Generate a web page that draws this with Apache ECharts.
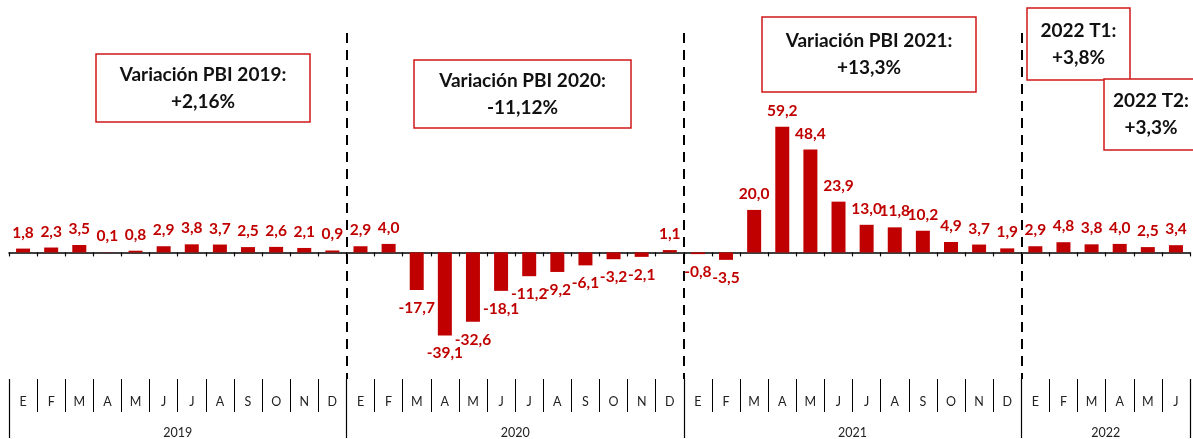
<!DOCTYPE html>
<html lang="es">
  <head>
    <meta charset="UTF-8" />
    <title>Variación mensual PBI</title>
    <script src="https://cdn.jsdelivr.net/npm/echarts@6.0.0/dist/echarts.min.js"></script>
    <style>
      html, body { margin: 0; padding: 0; background: #fff; }
      #main { width: 1193px; height: 439px; }
    </style>
  </head>
  <body>
    <div id="main"></div>

    <script>
      const months = ['E', 'F', 'M', 'A', 'M', 'J', 'J', 'A', 'S', 'O', 'N', 'D'];
      const years = ['2019', '2020', '2021', '2022'];
      const monthsPerYear = [12, 12, 12, 6];

      const values2019 = [1.8, 2.3, 3.5, 0.1, 0.8, 2.9, 3.8, 3.7, 2.5, 2.6, 2.1, 0.9];
      const values2020 = [2.9, 4.0, -17.7, -39.1, -32.6, -18.1, -11.2, -9.2, -6.1, -3.2, -2.1, 1.1];
      const values2021 = [-0.8, -3.5, 20.0, 59.2, 48.4, 23.9, 13.0, 11.8, 10.2, 4.9, 3.7, 1.9];
      const values2022 = [2.9, 4.8, 3.8, 4.0, 2.5, 3.4];

      const boxTitles = ['Variación PBI 2019:', 'Variación PBI 2020:', 'Variación PBI 2021:', '2022 T1:', '2022 T2:'];
      const boxValues = ['+2,16%', '-11,12%', '+13,3%', '+3,8%', '+3,3%'];

      const RED = '#C00000';
      const FONT = 'Lato';

      const values = [].concat(values2019, values2020, values2021, values2022);
      const monthCats = [];
      monthsPerYear.forEach((n) => {
        for (let i = 0; i < n; i++) monthCats.push(months[i]);
      });

      // half-month slots so the year names sit between months
      const halfCount = values.length * 2 + 1;
      const yearCats = new Array(halfCount).fill('');
      const yearEdges = [0];
      let start = 0;
      monthsPerYear.forEach((n, i) => {
        yearCats[start * 2 + n] = years[i];
        start += n;
        yearEdges.push(start * 2);
      });

      const fmt = (v) => v.toFixed(1).replace('.', ',');

      // annotation boxes [x, y, w, h]
      const boxPos = [
        [96, 54, 214, 68],
        [414, 60, 217, 68],
        [762, 17, 214, 75],
        [1027, 8, 103, 72],
        [1104, 79, 94, 71],
      ];
      const graphics = [];
      boxPos.forEach((b, i) => {
        graphics.push({
          type: 'rect',
          shape: { x: b[0], y: b[1], width: b[2], height: b[3] },
          style: { fill: '#fff', stroke: '#D01818', lineWidth: 1.5 },
          z: 10,
        });
        graphics.push({
          type: 'text',
          x: b[0] + b[2] / 2,
          y: b[1] + b[3] / 2,
          style: {
            text: boxTitles[i] + '\n' + boxValues[i],
            fill: '#111',
            font: 'bold 19px ' + FONT,
            align: 'center',
            verticalAlign: 'middle',
            lineHeight: 27,
          },
          z: 11,
        });
      });

      const options = {
        animation: false,
        grid: { left: 9, right: 0, top: 33, bottom: 59 },
        xAxis: [
          {
            type: 'category',
            data: monthCats,
            position: 'bottom',
            axisLine: { onZero: true, lineStyle: { color: '#000', width: 1.5 } },
            axisTick: { show: true, length: 4, lineStyle: { color: '#000', width: 1.2 } },
            axisLabel: { show: false },
          },
          {
            type: 'category',
            data: monthCats,
            position: 'bottom',
            axisLine: { show: true, onZero: false, lineStyle: { color: 'rgba(0,0,0,0)' } },
            axisTick: { show: true, interval: 0, length: 33, lineStyle: { color: '#000', width: 1 } },
            axisLabel: { interval: 0, margin: 16, fontSize: 12.5, fontFamily: FONT, color: '#222' },
          },
          {
            type: 'category',
            data: yearCats,
            boundaryGap: false,
            position: 'bottom',
            axisLine: { show: false, onZero: false },
            axisTick: {
              show: true,
              length: 59,
              interval: (i) => yearEdges.indexOf(i) >= 0,
              lineStyle: { color: '#000', width: 1.2 },
            },
            axisLabel: { interval: 0, margin: 47, fontSize: 12.5, fontFamily: FONT, color: '#222' },
            splitLine: {
              show: true,
              interval: (i) => i > 0 && i < halfCount - 1 && yearEdges.indexOf(i) >= 0,
              lineStyle: { color: '#000', width: 2, type: [10, 7] },
            },
          },
        ],
        yAxis: {
          type: 'value',
          min: -59.6,
          max: 103.3,
          show: false,
          splitLine: { show: false },
        },
        series: [
          {
            type: 'bar',
            xAxisIndex: 0,
            barWidth: 14,
            itemStyle: { color: RED },
            data: values.map((v) => ({
              value: v,
              label: { position: v < 0 ? 'bottom' : 'top', distance: v < 0 ? 10 : 8 },
            })),
            label: {
              show: true,
              formatter: (p) => fmt(p.value),
              color: RED,
              fontWeight: 'bold',
              fontSize: 15.5,
              fontFamily: FONT,
            },
          },
        ],
        graphic: graphics,
      };

      const myChart = echarts.init(document.getElementById('main'));
      myChart.setOption(options);
    </script>
  </body>
</html>
